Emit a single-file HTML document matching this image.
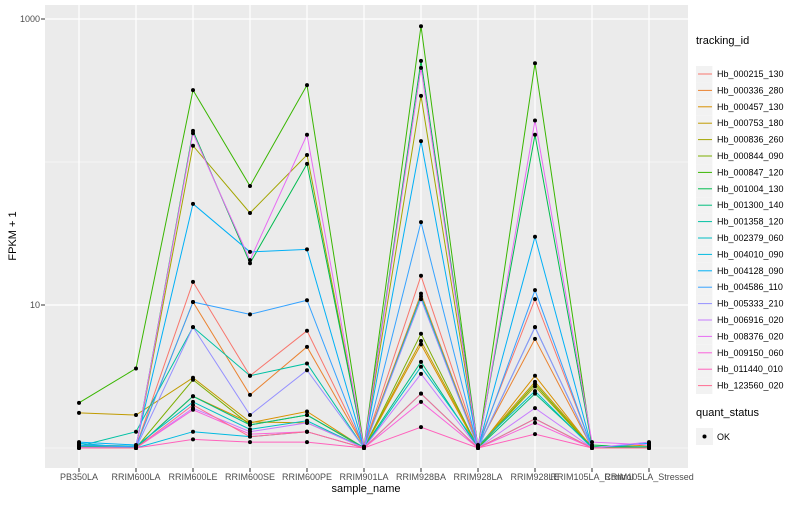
<!DOCTYPE html>
<html><head><meta charset="utf-8"><style>
body{margin:0;background:#fff;}
svg{font-family:"Liberation Sans",sans-serif;}
</style></head><body>
<svg id="chart" width="800" height="500" xmlns="http://www.w3.org/2000/svg">
<rect x="0" y="0" width="800" height="500" fill="#fff"/>
<rect x="45" y="5" width="643" height="463" fill="#ebebeb"/>
<g id="grid"></g>
<g id="lines"></g>
<g id="points"></g>
<g id="axes"></g>
<g id="legend"></g>
</svg>
<script>
const samples=["PB350LA","RRIM600LA","RRIM600LE","RRIM600SE","RRIM600PE","RRIM901LA","RRIM928BA","RRIM928LA","RRIM928LE","RRIM105LA_Control","RRIM105LA_Stressed"];
const ids=["Hb_000215_130","Hb_000336_280","Hb_000457_130","Hb_000753_180","Hb_000836_260","Hb_000844_090","Hb_000847_120","Hb_001004_130","Hb_001300_140","Hb_001358_120","Hb_002379_060","Hb_004010_090","Hb_004128_090","Hb_004586_110","Hb_005333_210","Hb_006916_020","Hb_008376_020","Hb_009150_060","Hb_011440_010","Hb_123560_020"];
const colors=["#F8766D","#EA8331","#D89000","#C09B00","#A3A500","#7CAE00","#39B600","#00BB4E","#00BF7D","#00C1A3","#00BFC4","#00BAE0","#00B0F6","#35A2FF","#9590FF","#C77CFF","#E76BF3","#FA62DB","#FF62BC","#FF6C91"];
const s0=[1.03,1.02,14.5,3.2,6.6,1.02,16,1.05,11,1.01,1.0];
const s1=[1.05,1.03,10.5,2.35,5.1,1.02,12,1.03,5.8,1.0,1.02];
const s2=[1.02,1.0,2.3,1.5,1.8,1.0,5.3,1.0,3.2,1.0,1.05];
const s3=[1.76,1.7,3.1,1.52,1.5,1.01,5.6,1.02,2.9,1.02,1.0];
const s4=[1.03,1.0,130,44,112,1.0,290,1.0,2.7,1.0,1.0];
const s5=[1.02,1.0,3.0,1.45,1.7,1.0,6.3,1.0,2.8,1.0,1.0];
const s6=[2.07,3.6,318,68,345,1.02,890,1.0,490,1.02,1.0];
const s7=[1.01,1.0,165,19.6,97,1.0,510,1.02,155,1.05,1.0];
const s8=[1.02,1.0,2.3,1.45,1.7,1.01,4.0,1.0,2.4,1.02,1.02];
const s9=[1.03,1.3,7.0,3.2,3.9,1.0,11.5,1.0,7.0,1.0,1.0];
const s10=[1.05,1.03,2.1,1.35,1.55,1.0,3.7,1.04,2.5,1.0,1.0];
const s11=[1.08,1.0,1.3,1.2,1.3,1.0,2.4,1.0,1.6,1.0,1.0];
const s12=[1.1,1.05,51,23.5,24.5,1.0,140,1.0,30,1.0,1.08];
const s13=[1.04,1.02,10.5,8.6,10.8,1.0,38,1.0,12.7,1.0,1.0];
const s14=[1.01,1.0,7.0,1.7,3.5,1.0,11,1.0,7.0,1.0,1.0];
const s15=[1.01,1.0,1.9,1.3,1.5,1.0,3.3,1.0,1.9,1.0,1.1];
const s16=[1.0,1.0,159,20.6,155,1.0,455,1.0,195,1.1,1.05];
const s17=[1.0,1.0,1.85,1.25,1.3,1.0,2.1,1.0,1.5,1.0,1.0];
const s18=[1.0,1.0,1.15,1.1,1.1,1.0,1.4,1.0,1.25,1.0,1.0];
const s19=[1.0,1.0,2.0,1.2,1.3,1.0,2.4,1.0,1.6,1.0,1.0];
const series=[s0,s1,s2,s3,s4,s5,s6,s7,s8,s9,s10,s11,s12,s13,s14,s15,s16,s17,s18,s19];
const yTicks=[10,1000];
const yMinor=[1,100];

const NS="http://www.w3.org/2000/svg";
function xS(i){return 79+i*57;}
function yS(v){return 305-(Math.log10(v)-1)*143;}
function mk(tag,attrs,parent){const e=document.createElementNS(NS,tag);for(const k in attrs)e.setAttribute(k,attrs[k]);parent.appendChild(e);return e;}
const grid=document.getElementById('grid'),lines=document.getElementById('lines'),pts=document.getElementById('points'),axes=document.getElementById('axes'),leg=document.getElementById('legend');
yMinor.forEach(v=>{const l=mk('line',{x1:45,x2:688,y1:yS(v),y2:yS(v),stroke:'#fff','stroke-width':0.6},grid);

});
yTicks.forEach(v=>{const l=mk('line',{x1:45,x2:688,y1:yS(v),y2:yS(v),stroke:'#fff','stroke-width':1.2},grid);


const t=mk('line',{x1:41,x2:45,y1:yS(v),y2:yS(v),stroke:'#333','stroke-width':1},axes);


const tx=mk('text',{x:40,y:yS(v)+3,'text-anchor':'end','font-size':9,fill:'#4d4d4d'},axes);tx.textContent=v;

});
samples.forEach((s,i)=>{const l=mk('line',{x1:xS(i),x2:xS(i),y1:5,y2:468,stroke:'#fff','stroke-width':1.2},grid);


const t=mk('line',{x1:xS(i),x2:xS(i),y1:468,y2:472,stroke:'#333','stroke-width':1},axes);


const tx=mk('text',{x:xS(i),y:480,'text-anchor':'middle','font-size':9,fill:'#4d4d4d'},axes);tx.textContent=s;

});
series.forEach((d,k)=>{const p=mk('polyline',{points:d.map((v,i)=>xS(i)+','+yS(v)).join(' '),fill:'none',stroke:colors[k],'stroke-width':1},lines);

});
series.forEach((d,k)=>{d.forEach((v,i)=>{const c=mk('circle',{cx:xS(i),cy:yS(v),r:2,fill:'#000'},pts);

});});
let t=mk('text',{x:366,y:492,'text-anchor':'middle','font-size':11,fill:'#000'},axes);t.textContent='sample_name';


t=mk('text',{x:0,y:0,'text-anchor':'middle','font-size':11,fill:'#000',transform:'translate(16,236) rotate(-90)'},axes);t.textContent='FPKM + 1';


t=mk('text',{x:696,y:44,'font-size':11,fill:'#000'},leg);t.textContent='tracking_id';


ids.forEach((id,k)=>{const y=74+k*16.4;
const g=mk('g',{},leg);


mk('rect',{x:696,y:y-8,width:16.4,height:16.4,fill:'#f2f2f2'},g);
mk('line',{x1:698,x2:712,y1:y,y2:y,stroke:colors[k],'stroke-width':1},g);
const tx=mk('text',{x:717,y:y+3,'font-size':9,fill:'#000'},g);tx.textContent=id;});
t=mk('text',{x:696,y:416,'font-size':11,fill:'#000'},leg);t.textContent='quant_status';


const g2=mk('g',{},leg);


mk('rect',{x:696,y:428,width:17,height:17,fill:'#f2f2f2'},g2);
mk('circle',{cx:704.5,cy:436.5,r:2,fill:'#000'},g2);
t=mk('text',{x:717,y:440,'font-size':9,fill:'#000'},g2);t.textContent='OK';
</script>
</body></html>
